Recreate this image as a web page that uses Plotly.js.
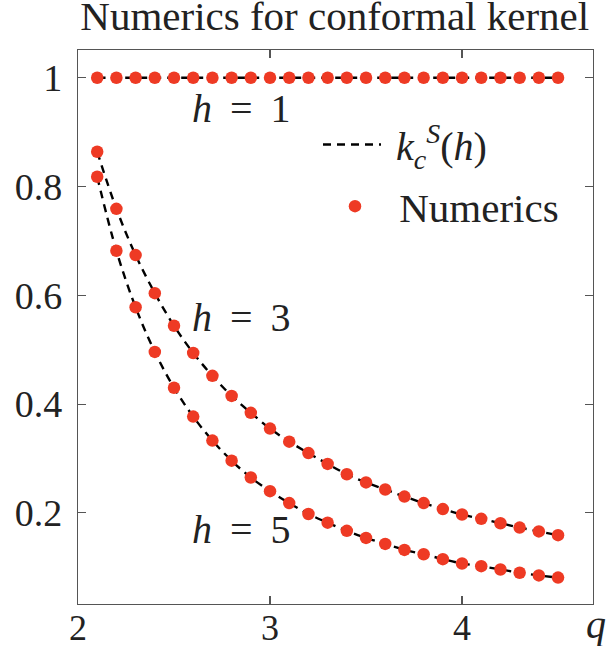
<!DOCTYPE html>
<html>
<head>
<meta charset="utf-8">
<script src="https://cdn.plot.ly/plotly-3.0.1.min.js"></script>
<style>html,body{margin:0;padding:0;background:#fff;}#chart{width:612px;height:646px;}</style>
</head>
<body>
<div id="chart"></div>
<script>
const q = [2.1,2.2,2.3,2.4,2.5,2.6,2.7,2.8,2.9,3.0,3.1,3.2,3.3,3.4,3.5,3.6,3.7,3.8,3.9,4.0,4.1,4.2,4.3,4.4,4.5];
const kH1 = [1,1,1,1,1,1,1,1,1,1,1,1,1,1,1,1,1,1,1,1,1,1,1,1,1];
const kH3 = [0.864,0.759,0.674,0.604,0.544,0.494,0.452,0.415,0.384,0.355,0.331,0.310,0.290,0.271,0.256,0.243,0.230,0.218,0.207,0.197,0.189,0.181,0.173,0.166,0.159];
const kH5 = [0.818,0.682,0.578,0.496,0.430,0.377,0.333,0.296,0.265,0.240,0.218,0.198,0.182,0.167,0.154,0.143,0.132,0.124,0.115,0.107,0.102,0.096,0.090,0.085,0.081];
const xTicks = [2,3,4];
const xTickText = ['2','3','4'];
const yTicks = [0.2,0.4,0.6,0.8,1];
const yTickText = ['0.2','0.4','0.6','0.8','1'];
const curveLabels = ['<i>h</i>&nbsp;&#8201;=&nbsp;&#8201;1','<i>h</i>&nbsp;&#8201;=&nbsp;&#8201;3','<i>h</i>&nbsp;&#8201;=&nbsp;&#8201;5'];
const labelPos = [[2.85,0.944],[2.85,0.559],[2.85,0.169]];

const RED = '#ee3a24';
const FONT = "'Liberation Serif', serif";
const series = [kH1,kH3,kH5];
const traces = [];
series.forEach((s,i)=>{
  traces.push({x:q,y:s,type:'scatter',mode:'lines',line:{color:'#000',width:2.4,dash:'8px,6px',shape:'spline'},
    name:'&nbsp;<i>k</i><sub><i>c</i></sub><sup><i>S</i></sup>(<i>h</i>)',showlegend:i===0,legend:'legend',hoverinfo:'skip'});
});
series.forEach((s,i)=>{
  traces.push({x:q,y:s,type:'scatter',mode:'markers',marker:{color:RED,size:12.5},
    name:'&nbsp;Numerics',showlegend:i===0,legend:'legend2',hoverinfo:'skip'});
});

const axisCommon = {showgrid:false,zeroline:false,showline:true,linecolor:'#555',linewidth:1.2,
  mirror:'ticks',ticks:'inside',ticklen:8,tickcolor:'#555',tickwidth:1.2};

const layout = {
  width:612,height:646,
  paper_bgcolor:'#fff',plot_bgcolor:'#fff',
  margin:{l:78,r:19,t:50,b:42},
  title:{text:'Numerics for conformal kernel',font:{family:FONT,size:41,color:'#222'},
    x:0.547,xref:'container',xanchor:'center',y:0.998,yref:'container',yanchor:'top'},
  xaxis:Object.assign({},axisCommon,{range:[2,4.682],tickvals:xTicks,ticktext:xTickText,ticklabelstandoff:-8,
    tickfont:{family:FONT,size:36,color:'#222'}}),
  yaxis:Object.assign({},axisCommon,{range:[0.0325,1.051],tickvals:yTicks,ticktext:yTickText,ticklabelstandoff:7,
    tickfont:{family:FONT,size:38,color:'#222'}}),
  showlegend:true,
  legend:{x:(318-78)/515,y:0.888,xanchor:'left',yanchor:'top',itemwidth:58,bgcolor:'rgba(0,0,0,0)',font:{family:FONT,size:40,color:'#222'}},
  legend2:{x:(321-78)/515,y:0.778,xanchor:'left',yanchor:'top',itemwidth:58,bgcolor:'rgba(0,0,0,0)',font:{family:FONT,size:41,color:'#222'}},
  annotations: curveLabels.map((t,i)=>({x:labelPos[i][0],y:labelPos[i][1],xref:'x',yref:'y',text:t,showarrow:false,
    font:{family:FONT,size:40,color:'#222'}})).concat([
    {x:0.983,y:0.008,xref:'paper',yref:'paper',xanchor:'left',yanchor:'top',text:'<i>q</i>',showarrow:false,font:{family:FONT,size:40,color:'#222'}}
  ])
};
Plotly.newPlot('chart',traces,layout,{displayModeBar:false,staticPlot:true});
</script>
</body>
</html>
